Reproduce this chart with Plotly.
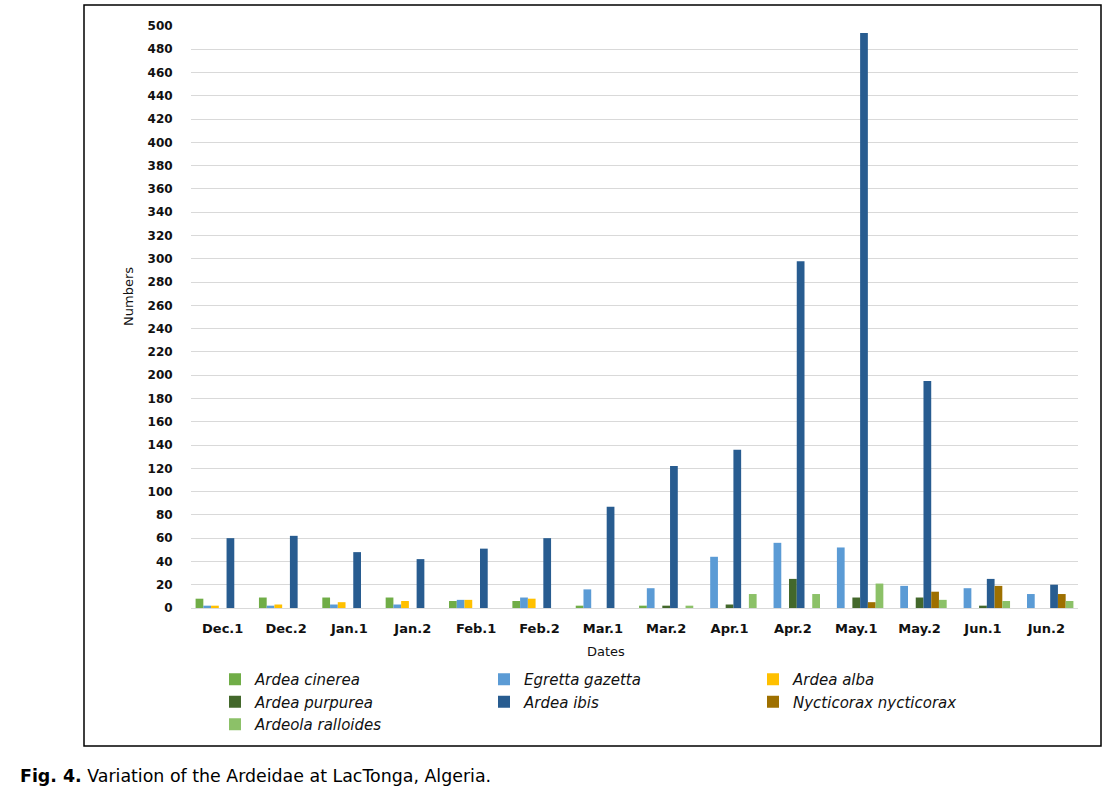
import plotly.graph_objects as go

dates = ["Dec.1", "Dec.2", "Jan.1", "Jan.2", "Feb.1", "Feb.2", "Mar.1",
         "Mar.2", "Apr.1", "Apr.2", "May.1", "May.2", "Jun.1", "Jun.2"]

ardea_cinerea = [8, 9, 9, 9, 6, 6, 2, 2, 0, 0, 0, 0, 0, 0]
egretta_gazetta = [2, 2, 3, 3, 7, 9, 16, 17, 44, 56, 52, 19, 17, 12]
ardea_alba = [2, 3, 5, 6, 7, 8, 0, 0, 0, 0, 0, 0, 0, 0]
ardea_purpurea = [0, 0, 0, 0, 0, 0, 0, 2, 3, 25, 9, 9, 2, 0]
ardea_ibis = [60, 62, 48, 42, 51, 60, 87, 122, 136, 298, 494, 195, 25, 20]
nycticorax = [0, 0, 0, 0, 0, 0, 0, 0, 0, 0, 5, 14, 19, 12]
ardeola_ralloides = [0, 0, 0, 0, 0, 0, 0, 2, 12, 12, 21, 7, 6, 6]

series = [
    ("Ardea cinerea", ardea_cinerea, "#70AD47"),
    ("Egretta gazetta", egretta_gazetta, "#5B9BD5"),
    ("Ardea alba", ardea_alba, "#FFC000"),
    ("Ardea purpurea", ardea_purpurea, "#43682B"),
    ("Ardea ibis", ardea_ibis, "#285C90"),
    ("Nycticorax nycticorax", nycticorax, "#9E7000"),
    ("Ardeola ralloides", ardeola_ralloides, "#8CC168"),
]

y_ticks = list(range(0, 501, 20))

W, H = 1115, 794
L, R, T, B = 191, 37, 26, 186
pw, ph = W - L - R, H - T - B

def px_x(x):
    return (x - L) / pw

def px_y(y):
    return (H - B - y) / ph

fig = go.Figure()
for name, vals, col in series:
    fig.add_trace(go.Bar(x=dates, y=vals, name=name,
                         marker=dict(color=col, line=dict(width=0))))

fig.update_layout(
    width=W, height=H,
    margin=dict(l=L, r=R, t=T, b=B),
    paper_bgcolor="white", plot_bgcolor="white",
    barmode="group", bargap=0.145, bargroupgap=0,
    font=dict(family="DejaVu Sans", size=11, color="#222"),
    xaxis=dict(
        tickfont=dict(size=13, color="#111", weight="bold"),
        showgrid=False, showline=False, zeroline=False,
        ticks="outside", ticklen=8, tickcolor="rgba(0,0,0,0)",
    ),
    yaxis=dict(
        range=[0, 500], tickvals=y_ticks,
        tickfont=dict(size=12, color="#111", weight="bold"),
        showgrid=True, gridcolor="#D9D9D9", gridwidth=1,
        zeroline=True, zerolinecolor="#D9D9D9", zerolinewidth=1,
        showline=False,
        ticks="outside", ticklen=15, tickcolor="rgba(0,0,0,0)",
    ),
    legend=dict(
        orientation="h", x=px_x(215), y=px_y(663), xanchor="left", yanchor="top",
        entrywidth=224, entrywidthmode="pixels",
        font=dict(size=15, style="italic", color="#111"),
        tracegroupgap=0, itemclick=False, bgcolor="rgba(0,0,0,0)",
        traceorder="normal",
    ),
    shapes=[dict(type="rect", xref="paper", yref="paper",
                 x0=px_x(84), x1=px_x(1101), y0=px_y(746), y1=px_y(5),
                 line=dict(color="black", width=1.5), fillcolor="rgba(0,0,0,0)",
                 layer="below")],
    annotations=[
        dict(text="Numbers", xref="paper", yref="paper", x=px_x(128), y=px_y(297),
             textangle=-90, showarrow=False, xanchor="center", yanchor="middle",
             font=dict(size=13, color="#111")),
        dict(text="Dates", xref="paper", yref="paper", x=px_x(606), y=px_y(651),
             showarrow=False, xanchor="center", yanchor="middle",
             font=dict(size=13, color="#111")),
        dict(text="<b>Fig. 4.</b> Variation of the Ardeidae at LacTonga, Algeria.",
             xref="paper", yref="paper", x=px_x(18), y=px_y(776),
             xanchor="left", yanchor="middle", showarrow=False,
             font=dict(family="DejaVu Sans", size=17.4, color="black")),
    ],
)

fig.write_html("out.html", config={"displayModeBar": False},
               post_script="document.body.style.margin='0';")
